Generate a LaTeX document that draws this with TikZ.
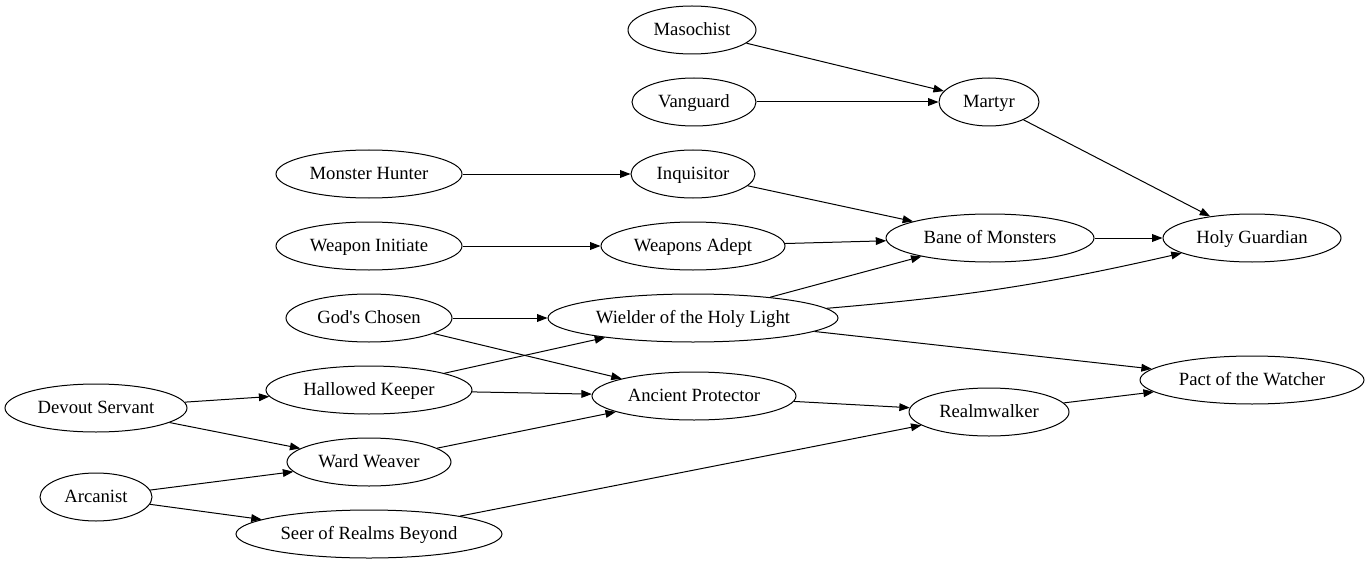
\documentclass[tikz,border=0pt]{standalone}
\usepackage{fontspec}
\setmainfont{Liberation Serif}
\usetikzlibrary{arrows.meta,shapes.geometric}

\begin{document}
\begin{tikzpicture}[x=0.75pt,y=-0.75pt]
\tikzset{
  classnode/.style={ellipse,draw,line width=0.75pt,inner sep=0pt,minimum height=36pt,
    minimum width={#1*0.75pt},text height=10pt,text depth=1.5pt,
    font=\fontsize{14pt}{16pt}\selectfont},
  directed/.style={-{Triangle[length=7.8pt,width=5.8pt]},line width=0.75pt}
}
\useasboundingbox (0,0) rectangle (1369,563);
\node[classnode=128] (n_maso) at (692,30) {Masochist};
\node[classnode=124] (n_vang) at (694,102) {Vanguard};
\node[classnode=100] (n_mart) at (989,102) {Martyr};
\node[classnode=186] (n_mhun) at (369,174) {Monster Hunter};
\node[classnode=124] (n_inqu) at (693,174) {Inquisitor};
\node[classnode=186] (n_wini) at (369,246) {Weapon Initiate};
\node[classnode=184] (n_wade) at (693,246) {Weapons Adept};
\node[classnode=208] (n_bane) at (990,238) {Bane of Monsters};
\node[classnode=178] (n_holy) at (1252,238) {Holy Guardian};
\node[classnode=166] (n_gods) at (369,318) {God\textquotesingle s Chosen};
\node[classnode=290] (n_wiel) at (693,318) {Wielder of the Holy Light};
\node[classnode=206] (n_hall) at (369,390) {Hallowed Keeper};
\node[classnode=204] (n_anci) at (694,396) {Ancient Protector};
\node[classnode=224] (n_pact) at (1252,380) {Pact of the Watcher};
\node[classnode=160] (n_real) at (989,412) {Realmwalker};
\node[classnode=182] (n_devo) at (96,408) {Devout Servant};
\node[classnode=164] (n_ward) at (369,462) {Ward Weaver};
\node[classnode=112] (n_arca) at (96,497) {Arcanist};
\node[classnode=266] (n_seer) at (369,534) {Seer of Realms Beyond};
\draw[directed] (n_maso) -- (n_mart);
\draw[directed] (n_vang) -- (n_mart);
\draw[directed] (n_mart) -- (n_holy);
\draw[directed] (n_mhun) -- (n_inqu);
\draw[directed] (n_inqu) -- (n_bane);
\draw[directed] (n_wini) -- (n_wade);
\draw[directed] (n_wade) -- (n_bane);
\draw[directed] (n_bane) -- (n_holy);
\draw[directed] (n_wiel) -- (n_bane);
\draw[directed] (n_wiel) to[bend right=4] (n_holy);
\draw[directed] (n_wiel) -- (n_pact);
\draw[directed] (n_gods) -- (n_wiel);
\draw[directed] (n_gods) -- (n_anci);
\draw[directed] (n_hall) -- (n_wiel);
\draw[directed] (n_hall) -- (n_anci);
\draw[directed] (n_devo) -- (n_hall);
\draw[directed] (n_devo) -- (n_ward);
\draw[directed] (n_ward) -- (n_anci);
\draw[directed] (n_arca) -- (n_ward);
\draw[directed] (n_arca) -- (n_seer);
\draw[directed] (n_seer) -- (n_real);
\draw[directed] (n_anci) -- (n_real);
\draw[directed] (n_real) -- (n_pact);
\end{tikzpicture}
\end{document}
